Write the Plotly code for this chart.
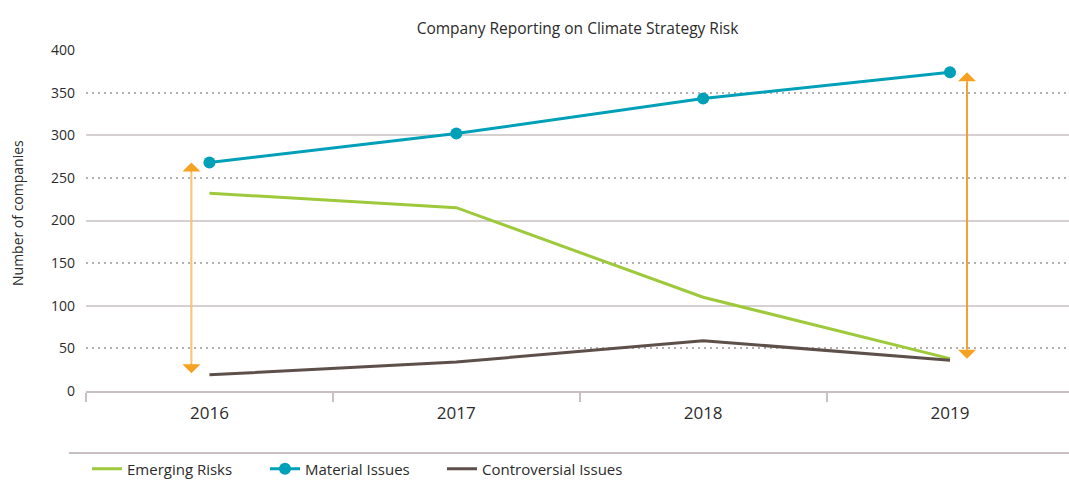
import plotly.graph_objects as go

years = ["2016", "2017", "2018", "2019"]
emerging = [232, 215, 110, 38]
material = [268, 302, 343, 374]
controversial = [19, 34, 59, 36]

y_ticks = [0, 50, 100, 150, 200, 250, 300, 350, 400]

FONT = "Open Sans"
TXT = "#2b2b2b"
AXC = "#c9c1c1"

fig = go.Figure()
fig.add_trace(go.Scatter(x=years, y=emerging, name="Emerging Risks", mode="lines",
                         line=dict(color="#9dc93b", width=3), legend="legend"))
fig.add_trace(go.Scatter(x=years, y=material, name="Material Issues", mode="lines+markers",
                         line=dict(color="#00a0b8", width=3),
                         marker=dict(color="#00a0b8", size=12), legend="legend2"))
fig.add_trace(go.Scatter(x=years, y=controversial, name="Controversial Issues", mode="lines",
                         line=dict(color="#5d4f4a", width=3), legend="legend3"))
# invisible trace so the overlay axis (solid 100-step grid) renders
fig.add_trace(go.Scatter(x=years, y=material, yaxis="y2", mode="lines",
                         line=dict(width=0), showlegend=False, hoverinfo="skip"))

# double-headed arrows spanning controversial -> material
arrow_defs = [(0, -18, "#f7a123", "#f9c474"), (3, 17, "#f7a123", "#f39a1e")]
for idx, shift, headc, shaftc in arrow_defs:
    fig.add_annotation(x=idx, y=material[idx], ax=idx, ay=controversial[idx],
                       xref="x", yref="y", axref="x", ayref="y", xshift=shift,
                       showarrow=True, text="", arrowside="end+start",
                       arrowhead=1, startarrowhead=1, arrowsize=2, startarrowsize=2,
                       arrowwidth=1.5, arrowcolor=headc)
    fig.add_annotation(x=idx, y=material[idx], ax=idx, ay=controversial[idx],
                       xref="x", yref="y", axref="x", ayref="y", xshift=shift,
                       showarrow=True, text="", arrowhead=0, standoff=10, startstandoff=10,
                       arrowwidth=1.5, arrowcolor=shaftc)

# y-axis title
fig.add_annotation(text="Number of companies", xref="paper", yref="paper",
                   x=(17 - 86) / 983, y=(391 - 213) / 341, xanchor="center", yanchor="middle",
                   textangle=-90, showarrow=False, font=dict(family=FONT, size=14, color=TXT))

# separator line above legend
fig.add_shape(type="line", xref="paper", yref="paper", x0=(69 - 86) / 983, x1=1,
              y0=(391 - 453) / 341, y1=(391 - 453) / 341, line=dict(color=AXC, width=2))

leg_common = dict(orientation="h", xanchor="left", yref="container", y=(480 - 469) / 480,
                  yanchor="middle", font=dict(size=15, color=TXT), itemwidth=30,
                  bgcolor="rgba(0,0,0,0)")

fig.update_layout(
    width=1069, height=480,
    margin=dict(l=86, r=0, t=50, b=89),
    paper_bgcolor="white", plot_bgcolor="white",
    font=dict(family=FONT, size=14, color=TXT),
    title=dict(text="Company Reporting on Climate Strategy Risk", x=0.5, xref="paper",
               y=1 - 29 / 480, yanchor="middle", font=dict(family=FONT, size=15.5, color=TXT)),
    xaxis=dict(type="category", range=[-0.5, 3.482], showline=True, linecolor=AXC, linewidth=2,
               ticks="outside", tickson="boundaries", ticklen=9, tickwidth=2, tickcolor=AXC,
               showgrid=False, tickfont=dict(size=17, color=TXT), ticklabelstandoff=6,
               fixedrange=True),
    yaxis=dict(range=[0, 400], tickvals=y_ticks, showgrid=True, gridcolor="#b5b0b0",
               griddash="1.5px,4.5px", gridwidth=1.5, zeroline=False, showline=False,
               ticklabelstandoff=10, tickfont=dict(size=14, color=TXT)),
    yaxis2=dict(range=[0, 400], overlaying="y", dtick=100, showgrid=True, gridcolor="#d6d0d0",
                gridwidth=1.5, showticklabels=False, zeroline=False, showline=False),
    legend=dict(x=0.001, **leg_common),
    legend2=dict(x=0.001 + 178 / 983, **leg_common),
    legend3=dict(x=0.001 + 355 / 983, **leg_common),
    showlegend=True,
)

post = "document.body.style.margin='0';"
fig.write_html("out.html", post_script=post, config={"displayModeBar": False})
